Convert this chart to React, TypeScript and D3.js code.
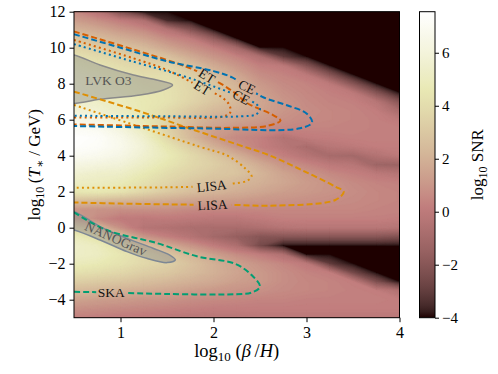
import React, { useEffect, useRef } from 'react';
import * as d3 from 'd3';

// log10(beta/H) columns and log10(T*/GeV) rows of the SNR map
const betaCols = [0.5, 0.75, 1, 1.25, 1.5, 1.75, 2, 2.25, 2.5, 2.75, 3, 3.25, 3.5, 3.75, 4];
const tempRows = [12, 11.5, 11, 10.5, 10, 9.5, 9, 8.5, 8, 7.5, 7, 6.5, 6, 5.5, 5, 4.5, 4, 3.5, 3, 2.5, 2, 1.5, 1, 0.5, 0, -0.5, -1, -1.5, -2, -2.5, -3, -3.5, -4, -4.5, -5];

// log10 SNR, one row per tempRows entry
const snrGrid = [
  [0.6, -0.3, -2.3, -4, -4, -4, -4, -4, -4, -4, -4, -4, -4, -4, -4],
  [1.3, 0.8, 0.2, -0.5, -3.5, -4, -4, -4, -4, -4, -4, -4, -4, -4, -4],
  [2.1, 1.7, 1.1, 0.6, -0.3, -2.0, -4, -4, -4, -4, -4, -4, -4, -4, -4],
  [2.9, 2.5, 2.0, 1.5, 0.7, 0.2, -1.5, -4, -4, -4, -4, -4, -4, -4, -4],
  [3.6, 3.2, 2.8, 2.4, 1.6, 0.9, 0.3, -1.0, -4, -4, -4, -4, -4, -4, -4],
  [4.3, 3.9, 3.5, 3.1, 2.7, 1.8, 1.0, 0.4, -0.6, -3.0, -4, -4, -4, -4, -4],
  [4.8, 4.4, 4.0, 3.6, 3.6, 2.7, 1.8, 1.0, 0.3, 0.0, -2.0, -4, -4, -4, -4],
  [5.1, 4.8, 4.4, 4.0, 4.0, 3.3, 2.5, 1.6, 0.7, 0.4, 0.0, -2.0, -4, -4, -4],
  [5.3, 5.0, 4.7, 4.3, 4.2, 3.6, 2.9, 2.1, 1.1, 0.6, 0.4, 0.0, -2.0, -4, -4],
  [5.4, 5.1, 4.9, 4.5, 4.3, 3.7, 3.0, 2.3, 1.4, 0.8, 0.5, 0.3, 0.0, -2.0, -4],
  [5.5, 5.3, 5.0, 4.6, 4.3, 3.6, 2.9, 2.3, 1.6, 1.0, 0.6, 0.4, 0.3, -0.2, -2.0],
  [5.9, 5.7, 5.1, 4.6, 3.9, 3.1, 2.4, 2.0, 1.5, 1.0, 0.7, 0.5, 0.4, 0.2, -0.8],
  [6.5, 6.3, 5.5, 4.7, 3.6, 2.6, 1.8, 1.5, 1.2, 0.8, 0.6, 0.5, 0.4, 0.3, 0.0],
  [7.1, 6.9, 6.1, 5.0, 3.5, 2.2, 1.4, 1.0, 0.7, 0.5, 0.4, 0.4, 0.4, 0.3, 0.3],
  [7.5, 7.3, 6.6, 5.5, 3.8, 2.4, 1.2, 0.6, 0.3, -0.4, 0.1, 0.2, 0.3, 0.3, 0.3],
  [7.4, 7.2, 6.7, 5.8, 4.5, 3.3, 2.0, 1.0, 0.3, -0.2, -0.8, -0.2, 0.0, 0.2, 0.2],
  [7.0, 6.8, 6.4, 5.6, 4.8, 3.9, 3.0, 2.0, 1.0, 0.3, -0.3, -0.9, -1.0, -0.4, 0.0],
  [6.3, 6.1, 5.9, 5.2, 4.5, 3.8, 3.3, 2.7, 1.8, 1.0, 0.5, 0.0, -0.2, -1.2, -1.3],
  [5.7, 5.4, 5.3, 4.7, 4.0, 3.5, 3.0, 2.8, 2.2, 1.5, 1.0, 0.6, 0.3, 0.0, -0.3],
  [5.2, 5.1, 4.8, 4.2, 3.6, 3.0, 2.6, 2.3, 2.0, 1.6, 1.2, 0.9, 0.6, 0.4, 0.3],
  [4.5, 4.6, 4.3, 3.7, 3.1, 2.6, 2.2, 1.9, 1.6, 1.3, 1.1, 0.9, 0.7, 0.5, 0.4],
  [2.6, 2.4, 2.2, 2.0, 1.8, 1.5, 1.3, 1.2, 1.0, 0.9, 0.8, 0.7, 0.6, 0.5, 0.4],
  [1.0, 0.9, 0.8, 0.8, 0.8, 0.6, 0.5, 0.5, 0.5, 0.5, 0.5, 0.5, 0.5, 0.4, 0.4],
  [1.5, 0.6, 0.1, 0.0, 0.1, 0.0, -0.1, -0.1, 0.1, 0.3, 0.3, 0.3, 0.3, 0.3, 0.2],
  [3.6, 2.4, 0.8, -0.3, -0.5, -0.7, -0.8, -0.8, -0.6, -0.3, -0.2, -0.2, -0.2, -0.2, -0.3],
  [4.9, 4.2, 2.6, 1.0, 0.3, -0.3, -1.0, -1.5, -2.0, -2.0, -2.0, -2.0, -2.0, -2.0, -2.2],
  [5.4, 5.0, 4.0, 2.8, 1.8, 1.0, 0.2, -0.6, -2.5, -4, -4, -4, -4, -4, -4],
  [5.3, 5.1, 4.5, 3.8, 3.0, 2.2, 1.4, 0.7, 0.2, -0.5, -4, -4, -4, -4, -4],
  [4.9, 4.7, 4.3, 3.8, 3.4, 2.7, 2.0, 1.4, 0.9, 0.5, 0.0, -3.0, -4, -4, -4],
  [4.2, 4.0, 3.7, 3.3, 3.0, 2.5, 2.0, 1.5, 1.1, 0.7, 0.4, 0.2, -2.5, -4, -4],
  [3.3, 3.1, 2.9, 2.6, 2.3, 2.0, 1.7, 1.3, 1.1, 0.7, 0.5, 0.4, 0.2, -2.2, -4],
  [2.4, 2.2, 2.0, 1.8, 1.6, 1.3, 1.1, 0.9, 0.8, 0.6, 0.5, 0.4, 0.3, 0.2, -0.5],
  [1.5, 1.3, 1.2, 1.0, 0.9, 0.7, 0.6, 0.5, 0.4, 0.4, 0.3, 0.3, 0.3, 0.3, 0.2],
  [0.8, 0.7, 0.6, 0.5, 0.4, 0.3, 0.2, 0.2, 0.2, 0.2, 0.2, 0.2, 0.2, 0.2, 0.2],
  [0.3, 0.2, 0.1, 0.0, -0.1, -0.2, -0.2, -0.2, -0.1, -0.1, -0.1, -0.1, -0.1, -0.1, -0.1],
];

const xTicks = [1, 2, 3, 4];
const yTicks = [-4, -2, 0, 2, 4, 6, 8, 10, 12];
const cbarTicks = [-4, -2, 0, 2, 4, 6];
const snrMin = -4;
const snrMax = 7.55;

// detector sensitivity contours [log10(beta/H), log10(T*)]
const etDashed = [[0.5, 10.9], [1.14, 9.9], [1.71, 8.94], [1.93, 8.43], [2.2, 7.6], [2.37, 6.9], [2.64, 6.26], [2.72, 5.95], [2.59, 5.67], [2.23, 5.55], [1.5, 5.62], [1.0, 5.68], [0.5, 5.74]];
const ceDashed = [[0.5, 10.75], [1.0, 10.0], [1.5, 9.25], [2.0, 8.7], [2.2, 8.35], [2.36, 7.82], [2.52, 7.28], [2.79, 6.8], [3.0, 6.35], [3.06, 5.85], [2.93, 5.52], [1.85, 5.52], [0.5, 5.65]];
const etDotted = [[0.5, 10.43], [1.14, 9.41], [1.5, 8.76], [1.88, 7.77], [2.08, 7.28], [2.17, 6.82], [2.18, 6.4], [2.1, 6.17], [1.5, 6.12], [1.0, 6.12], [0.5, 6.12]];
const ceDotted = [[0.5, 10.2], [1.14, 9.22], [1.64, 8.48], [2.0, 7.85], [2.3, 7.26], [2.45, 6.9], [2.5, 6.6], [2.46, 6.3], [2.3, 6.19], [1.5, 6.19], [0.5, 6.22]];
const lisaDashed = [[0.5, 7.56], [1.22, 6.44], [1.75, 5.5], [2.27, 4.6], [2.59, 4.04], [2.95, 3.2], [3.31, 2.28], [3.4, 2.0], [3.31, 1.54], [2.59, 1.22], [2.25, 1.26], [1.99, 1.27], [1.75, 1.28], [1.0, 1.34], [0.5, 1.4]];
const lisaDotted = [[0.5, 6.82], [1.21, 5.6], [1.85, 4.5], [2.15, 4.0], [2.34, 3.3], [2.41, 2.85], [2.36, 2.6], [2.22, 2.46], [1.98, 2.32], [1.6, 2.25], [0.5, 2.22]];
const skaDashed = [[0.5, 0.85], [0.85, -0.13], [1.4, -0.87], [1.83, -1.6], [2.23, -2.0], [2.41, -2.63], [2.5, -3.28], [2.41, -3.6], [2.23, -3.7], [1.5, -3.68], [0.9, -3.6], [0.5, -3.56]];

// existing signal regions
const lvkRegion = [[0.3, 9.7], [0.5, 9.6], [0.78, 9.04], [1.14, 8.48], [1.39, 8.2], [1.56, 7.93], [1.46, 7.65], [1.21, 7.37], [0.78, 7.13], [0.5, 6.9], [0.3, 6.85]];
const nanogravRegion = [[0.3, 1.0], [0.5, 0.89], [0.78, 0.06], [1.07, -0.59], [1.35, -1.14], [1.53, -1.52], [1.59, -1.79], [1.5, -1.94], [1.28, -1.7], [1.07, -1.33], [0.78, -0.68], [0.5, -0.13], [0.3, 0.1]];

// each contour with its inline label (label position on the curve, rotation in degrees)
const curves = [
  { pts: lisaDashed, color: '#DE8F05', dash: '6,3', label: { text: 'LISA', x: 1.99, y: 1.27, angle: -3 } },
  { pts: lisaDotted, color: '#DE8F05', dash: '2,3.2', label: { text: 'LISA', x: 1.98, y: 2.32, angle: -6 } },
  { pts: skaDashed, color: '#029E73', dash: '6,3', label: { text: 'SKA', x: 0.9, y: -3.6, angle: 0 } },
  { pts: etDashed, color: '#D55E00', dash: '6,3', label: { text: 'ET', x: 1.93, y: 8.43, angle: 32 } },
  { pts: etDotted, color: '#D55E00', dash: '2,3.2', label: { text: 'ET', x: 1.88, y: 7.77, angle: 32 } },
  { pts: ceDashed, color: '#0173B2', dash: '6,3', label: { text: 'CE', x: 2.36, y: 7.82, angle: 26 } },
  { pts: ceDotted, color: '#0173B2', dash: '2,3.2', label: { text: 'CE', x: 2.3, y: 7.26, angle: 28 } },
];

const serif = '"Liberation Serif", "DejaVu Serif", serif';

// matplotlib "pink" colormap: sqrt((2*gray + hot) / 3)
const pinkCmap = (v: number) => {
  const t = Math.max(0, Math.min(1, (v - snrMin) / (snrMax - snrMin)));
  const hr = Math.min(1, 0.0416 + (t * (1 - 0.0416)) / 0.365079);
  const hg = Math.max(0, Math.min(1, (t - 0.365079) / (0.746032 - 0.365079)));
  const hb = Math.max(0, Math.min(1, (t - 0.746032) / (1 - 0.746032)));
  const c = (h: number) => Math.round(255 * Math.sqrt((2 * t + h) / 3));
  return `rgb(${c(hr)},${c(hg)},${c(hb)})`;
};

const App = () => {
  const svgRef = useRef<SVGSVGElement>(null);

  useEffect(() => {
    const margin = { left: 74, right: 399.5, top: 11.7, bottom: 317.7 };
    const svg = d3.select(svgRef.current);
    svg.selectAll('*').remove();

    const x = d3.scaleLinear().domain([0.5, 4]).range([margin.left, margin.right]);
    const y = d3.scaleLinear().domain([-5, 12]).range([margin.bottom, margin.top]);

    const defs = svg.append('defs');
    defs.append('clipPath').attr('id', 'plotClip')
      .append('rect')
      .attr('x', margin.left).attr('y', margin.top)
      .attr('width', margin.right - margin.left).attr('height', margin.bottom - margin.top);

    // heatmap as filled contour bands of the grid
    const n = betaCols.length;
    const m = tempRows.length;
    const values = snrGrid.flat();
    const thresholds = d3.range(-4.15, 7.6, 0.08);
    const bands = d3.contours().size([n, m]).thresholds(thresholds)(values);
    const gx = d3.scaleLinear().domain([0.5, n - 0.5]).range([x(betaCols[0]), x(betaCols[n - 1])]);
    const gy = d3.scaleLinear().domain([0.5, m - 0.5]).range([y(tempRows[0]), y(tempRows[m - 1])]);
    const gridPath = d3.geoPath(d3.geoTransform({
      point(px: number, py: number) { (this as any).stream.point(gx(px), gy(py)); },
    }));

    const plot = svg.append('g').attr('clip-path', 'url(#plotClip)');
    plot.append('g')
      .selectAll('path')
      .data(bands)
      .join('path')
      .attr('d', (d: any) => gridPath(d))
      .attr('fill', (d: any) => pinkCmap(d.value + 0.04))
      .attr('stroke', (d: any) => pinkCmap(d.value + 0.04))
      .attr('stroke-width', 0.4);

    // shaded signal regions
    const region = d3.line<number[]>().x((d) => x(d[0])).y((d) => y(d[1])).curve(d3.curveCatmullRomClosed);
    plot.append('path').attr('d', region(lvkRegion))
      .attr('fill', 'rgba(140,140,140,0.45)').attr('stroke', '#8a8a8a').attr('stroke-width', 1.5);
    plot.append('path').attr('d', region(nanogravRegion))
      .attr('fill', 'rgba(140,140,140,0.45)').attr('stroke', '#7d8794').attr('stroke-width', 1.5);

    // contour lines, each broken only where its own label sits
    const line = d3.line<number[]>().x((d) => x(d[0])).y((d) => y(d[1])).curve(d3.curveCatmullRom.alpha(0.5));
    curves.forEach((c, i) => {
      const l = c.label;
      const w = l.text.length * 8 + 6;
      const mask = defs.append('mask').attr('id', `labelMask${i}`).attr('maskUnits', 'userSpaceOnUse');
      mask.append('rect').attr('x', 0).attr('y', 0).attr('width', 498).attr('height', 374).attr('fill', 'white');
      mask.append('rect')
        .attr('x', -w / 2).attr('y', -6).attr('width', w).attr('height', 12)
        .attr('transform', `translate(${x(l.x)},${y(l.y)}) rotate(${l.angle})`)
        .attr('fill', 'black');

      plot.append('path')
        .attr('mask', `url(#labelMask${i})`)
        .attr('d', line(c.pts))
        .attr('fill', 'none')
        .attr('stroke', c.color)
        .attr('stroke-width', 2)
        .attr('stroke-dasharray', c.dash);
    });

    curves.forEach((c) => {
      const l = c.label;
      plot.append('text')
        .attr('transform', `translate(${x(l.x)},${y(l.y)}) rotate(${l.angle})`)
        .attr('text-anchor', 'middle')
        .attr('dy', '0.35em')
        .style('font-family', serif)
        .style('font-size', '13.5px')
        .attr('fill', '#111')
        .text(l.text);
    });

    plot.append('text')
      .attr('x', x(0.87)).attr('y', y(8.2))
      .attr('text-anchor', 'middle').attr('dy', '0.35em')
      .style('font-family', serif).style('font-size', '13.5px')
      .attr('fill', '#555')
      .text('LVK O3');
    plot.append('text')
      .attr('transform', `translate(${x(0.95)},${y(-0.6)}) rotate(24)`)
      .attr('text-anchor', 'middle').attr('dy', '0.35em')
      .style('font-family', serif).style('font-size', '13.5px')
      .attr('fill', '#555')
      .text('NANOGrav');

    // frame
    svg.append('rect')
      .attr('x', margin.left).attr('y', margin.top)
      .attr('width', margin.right - margin.left).attr('height', margin.bottom - margin.top)
      .attr('fill', 'none').attr('stroke', '#000').attr('stroke-width', 1);

    // axes
    const xAxis = svg.append('g')
      .attr('transform', `translate(0,${margin.bottom})`)
      .call(d3.axisBottom(x).tickValues(xTicks).tickSize(4.5).tickPadding(4).tickFormat(d3.format('d')));
    const yAxis = svg.append('g')
      .attr('transform', `translate(${margin.left},0)`)
      .call(d3.axisLeft(y).tickValues(yTicks).tickSize(4.5).tickPadding(4).tickFormat(d3.format('d')));
    [xAxis, yAxis].forEach((a) => {
      a.select('.domain').remove();
      a.selectAll('text').style('font-family', serif).style('font-size', '16px').attr('fill', '#000');
    });

    // axis labels
    const xl = svg.append('text')
      .attr('x', (margin.left + margin.right) / 2).attr('y', 357)
      .attr('text-anchor', 'middle')
      .style('font-family', serif).style('font-size', '18.5px');
    xl.append('tspan').text('log');
    xl.append('tspan').attr('dy', 4).style('font-size', '13px').text('10');
    xl.append('tspan').attr('dy', -4).text(' (');
    xl.append('tspan').style('font-style', 'italic').text('β');
    xl.append('tspan').text('\u2009/');
    xl.append('tspan').style('font-style', 'italic').text('H');
    xl.append('tspan').text(')');

    const yl = svg.append('text')
      .attr('transform', `translate(40,${(margin.top + margin.bottom) / 2}) rotate(-90)`)
      .attr('text-anchor', 'middle')
      .style('font-family', serif).style('font-size', '17px');
    yl.append('tspan').text('log');
    yl.append('tspan').attr('dy', 4).style('font-size', '12px').text('10');
    yl.append('tspan').attr('dy', -4).text('\u2009(');
    yl.append('tspan').style('font-style', 'italic').text('T');
    yl.append('tspan').attr('dy', 4).style('font-size', '12px').text('∗');
    yl.append('tspan').attr('dy', -4).text(' / GeV)');

    // colorbar
    const cb = { x: 419.5, w: 15.5 };
    const c = d3.scaleLinear().domain([snrMin, snrMax]).range([margin.bottom, margin.top]);
    const grad = defs.append('linearGradient').attr('id', 'cbGrad')
      .attr('x1', 0).attr('y1', 1).attr('x2', 0).attr('y2', 0);
    d3.range(0, 1.0001, 0.02).forEach((t) => {
      grad.append('stop').attr('offset', t).attr('stop-color', pinkCmap(snrMin + t * (snrMax - snrMin)));
    });
    svg.append('rect')
      .attr('x', cb.x).attr('y', margin.top)
      .attr('width', cb.w).attr('height', margin.bottom - margin.top)
      .attr('fill', 'url(#cbGrad)').attr('stroke', '#000').attr('stroke-width', 1);
    const cAxis = svg.append('g')
      .attr('transform', `translate(${cb.x + cb.w},0)`)
      .call(d3.axisRight(c).tickValues(cbarTicks).tickSize(4).tickPadding(3).tickFormat(d3.format('d')));
    cAxis.select('.domain').remove();
    cAxis.selectAll('text').style('font-family', serif).style('font-size', '15px').attr('fill', '#000');

    const cl = svg.append('text')
      .attr('transform', `translate(483,${(margin.top + margin.bottom) / 2}) rotate(-90)`)
      .attr('text-anchor', 'middle')
      .style('font-family', serif).style('font-size', '17px');
    cl.append('tspan').text('log');
    cl.append('tspan').attr('dy', 4).style('font-size', '12px').text('10');
    cl.append('tspan').attr('dy', -4).text(' SNR');
  }, []);

  return (
    <svg ref={svgRef} width={498} height={374}
      style={{ position: 'absolute', left: 0, top: 0, background: '#fff' }} />
  );
};

export default App;
